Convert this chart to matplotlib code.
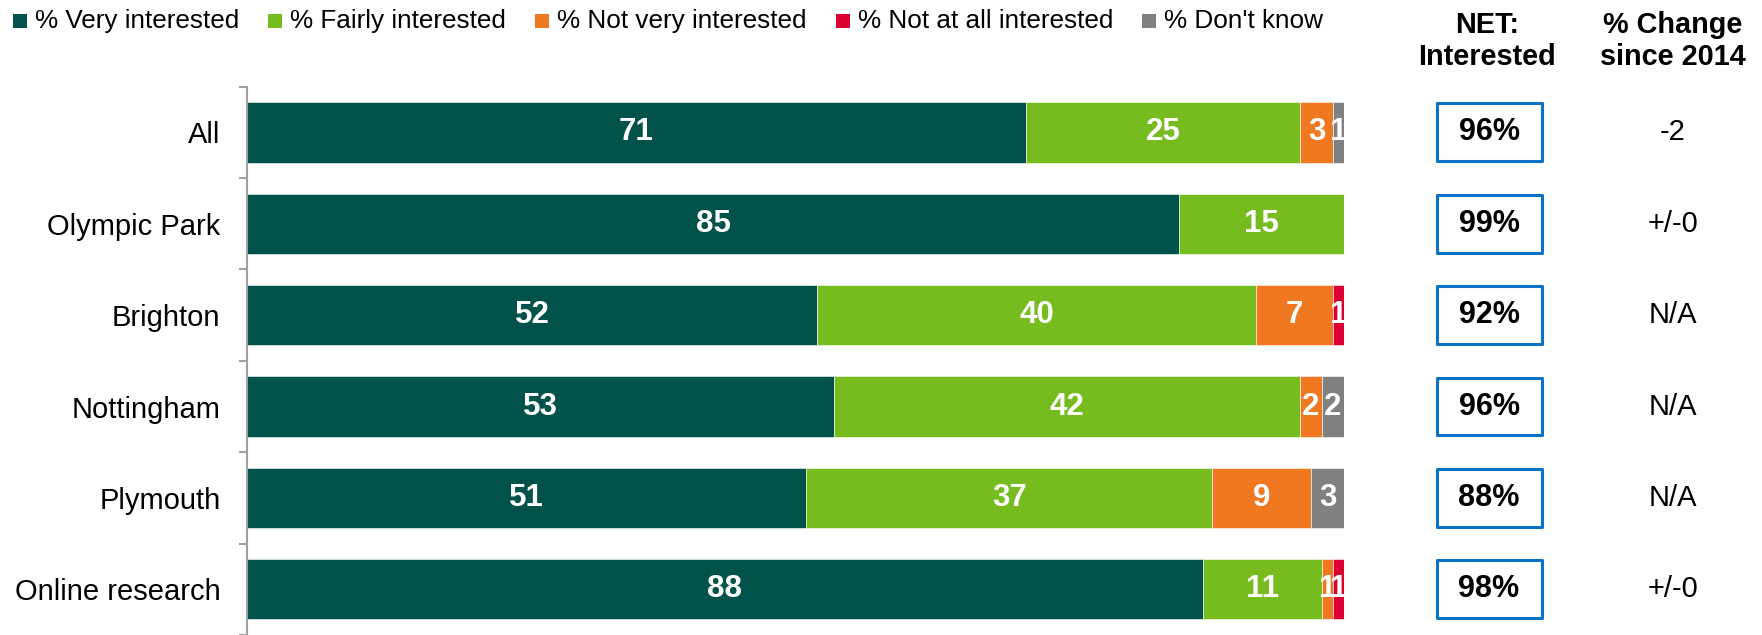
import matplotlib
matplotlib.use("Agg")
import matplotlib.pyplot as plt
import numpy as np
from matplotlib.patches import Rectangle
from matplotlib.transforms import blended_transform_factory

plt.rcParams['font.family'] = ['Liberation Sans', 'DejaVu Sans']

categories = ["All", "Olympic Park", "Brighton", "Nottingham", "Plymouth", "Online research"]
series_names = ["% Very interested", "% Fairly interested", "% Not very interested",
                "% Not at all interested", "% Don't know"]
very = [71, 85, 52, 53, 51, 88]
fairly = [25, 15, 40, 42, 37, 11]
not_very = [3, 0, 7, 2, 9, 1]
not_at_all = [0, 0, 1, 0, 0, 1]
dont_know = [1, 0, 0, 2, 3, 0]
net_interested = ["96%", "99%", "92%", "96%", "88%", "98%"]
change_2014 = ["-2", "+/-0", "N/A", "N/A", "N/A", "+/-0"]

colors = ["#02524C", "#77BC1F", "#F07820", "#DC0032", "#808080"]

W, H, DPI = 1762, 635, 100
fig = plt.figure(figsize=(W / DPI, H / DPI), dpi=DPI)
ax_left, ax_right = 247 / W, 1344 / W
ax_top = 1 - 86.7 / H
ax = fig.add_axes([ax_left, 0, ax_right - ax_left, ax_top])

data = np.array([very, fairly, not_very, not_at_all, dont_know], dtype=float)
totals = data.sum(axis=0)
norm = data / totals * 100
y = np.arange(len(categories))
left = np.zeros(len(categories))
for s in range(len(series_names)):
    ax.barh(y, norm[s], left=left, height=0.66, color=colors[s],
            edgecolor="white", linewidth=0.4)
    for i in range(len(categories)):
        if data[s, i] > 0:
            ax.text(left[i] + norm[s, i] / 2, y[i], f"{int(data[s, i])}",
                    ha="center", va="center", color="white",
                    fontsize=22.5, fontweight="bold")
    left += norm[s]

row_px = 91.7
ax.set_xlim(0, 100)
ax.set_ylim(-0.5 + (H - 86.7) / row_px, -0.5)
ax.set_yticks(y)
ax.set_yticklabels(categories, fontsize=21)
ax.set_yticks(np.arange(-0.5, len(categories), 1.0), minor=True)
ax.tick_params(axis="y", which="major", length=0, pad=19)
ax.tick_params(axis="y", which="minor", length=5.8, width=1.5, color="#A0A0A0")
ax.set_xticks([])
for sp in ["top", "right", "bottom"]:
    ax.spines[sp].set_visible(False)
ax.spines["left"].set_color("#A0A0A0")
ax.spines["left"].set_linewidth(1.5)

# right-hand columns
tr = blended_transform_factory(fig.transFigure, ax.transData)
net_x = 1489 / W
chg_x = 1673 / W
box_w = 105 / W
box_h = 58 / row_px
for i in range(len(categories)):
    ax.add_patch(Rectangle((net_x - box_w / 2, y[i] - box_h / 2), box_w, box_h,
                           transform=tr, fill=False, edgecolor="#0A72C8",
                           linewidth=2.2, clip_on=False, joinstyle="round"))
    ax.text(net_x, y[i], net_interested[i], transform=tr, ha="center", va="center",
            fontsize=22, fontweight="bold", color="black", clip_on=False)
    ax.text(chg_x, y[i], change_2014[i], transform=tr, ha="center", va="center",
            fontsize=21, color="black", clip_on=False)

fig.text(1487 / W, 1 - 41 / H, "NET:\nInterested", ha="center", va="center",
         fontsize=20.8, fontweight="bold", linespacing=1.2)
fig.text(1673 / W, 1 - 41 / H, "% Change\nsince 2014", ha="center", va="center",
         fontsize=20.8, fontweight="bold", linespacing=1.2)

# legend drawn manually
renderer = fig.canvas.get_renderer()
x_px = 13
ly = 1 - 21 / H
sq = 14
for s, name in enumerate(series_names):
    fig.patches.append(Rectangle((x_px / W, ly - (sq / 2) / H), sq / W, sq / H,
                                 transform=fig.transFigure, facecolor=colors[s],
                                 edgecolor="none"))
    t = fig.text((x_px + 22) / W, ly, name, ha="left", va="center", fontsize=18.8)
    bb = t.get_window_extent(renderer=renderer)
    x_px = bb.x1 + 29

fig.savefig("out.png", dpi=DPI)
